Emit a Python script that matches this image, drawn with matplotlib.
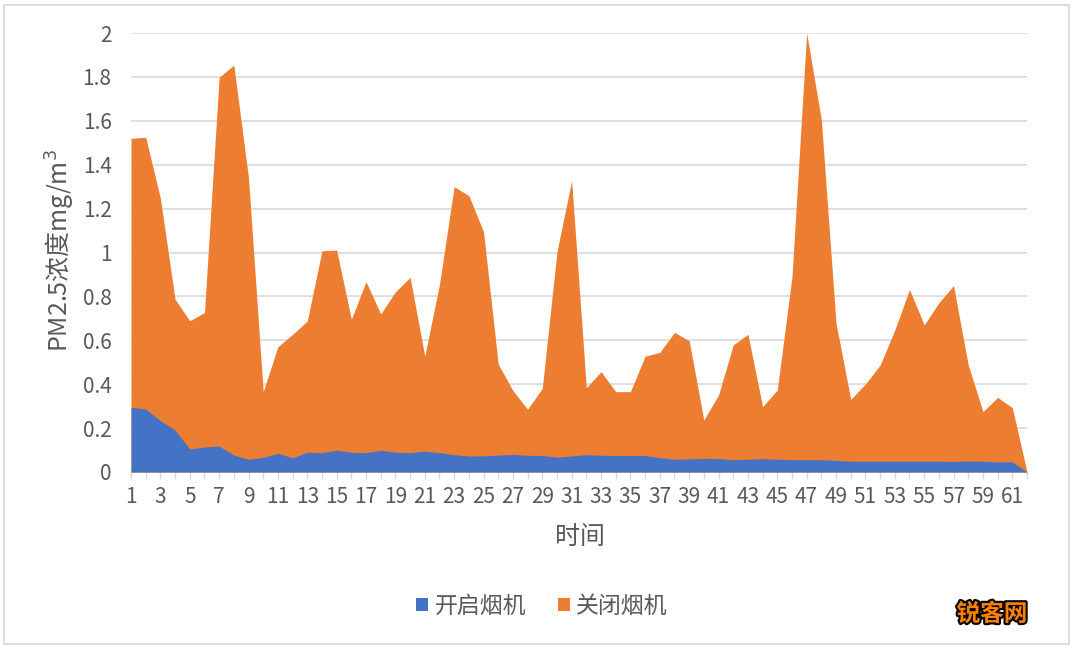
import matplotlib
matplotlib.use("Agg")
import matplotlib.pyplot as plt
import matplotlib.patheffects as pe
from matplotlib.patches import Rectangle

plt.rcParams['font.family'] = ['Noto Sans CJK SC', 'DejaVu Sans']

time_idx = list(range(1, 63))
off_values = [1.52, 1.525, 1.247, 0.787, 0.689, 0.726, 1.798, 1.854, 1.34, 0.366,
              0.571, 0.627, 0.688, 1.008, 1.011, 0.696, 0.867, 0.72, 0.821, 0.887,
              0.528, 0.855, 1.30, 1.259, 1.095, 0.492, 0.371, 0.286, 0.381, 1.004,
              1.327, 0.384, 0.457, 0.366, 0.366, 0.528, 0.545, 0.636, 0.598, 0.237,
              0.351, 0.579, 0.627, 0.298, 0.374, 0.89, 2.0, 1.604, 0.677, 0.331,
              0.401, 0.487, 0.647, 0.832, 0.67, 0.771, 0.849, 0.487, 0.275, 0.34,
              0.293, 0.0]
on_values = [0.295, 0.287, 0.234, 0.191, 0.105, 0.114, 0.118, 0.077, 0.058, 0.067,
             0.085, 0.065, 0.09, 0.088, 0.099, 0.09, 0.088, 0.099, 0.09, 0.088,
             0.095, 0.088, 0.079, 0.073, 0.073, 0.077, 0.08, 0.076, 0.075, 0.068,
             0.073, 0.079, 0.076, 0.075, 0.075, 0.075, 0.065, 0.058, 0.06, 0.062,
             0.061, 0.056, 0.058, 0.061, 0.058, 0.056, 0.056, 0.056, 0.053, 0.049,
             0.049, 0.049, 0.049, 0.049, 0.049, 0.049, 0.048, 0.05, 0.049, 0.046,
             0.046, 0.0]
series_names = ['开启烟机', '关闭烟机']
y_ticks = [0, 0.2, 0.4, 0.6, 0.8, 1, 1.2, 1.4, 1.6, 1.8, 2]
y_tick_labels = ['0', '0.2', '0.4', '0.6', '0.8', '1', '1.2', '1.4', '1.6', '1.8', '2']
x_label = '时间'
y_label = 'PM2.5浓度mg/m$^3$'

BLUE = '#4472C4'
ORANGE = '#ED7D31'
GRID = '#D9D9D9'
TXT = '#595959'

W, H = 1075, 648
fig = plt.figure(figsize=(W / 100, H / 100), dpi=100)
ax = fig.add_axes([131 / W, 1 - 472 / H, (1027 - 131) / W, (472 - 33) / H])

ax.fill_between(time_idx, 0, off_values, color=ORANGE, lw=0, zorder=2, label=series_names[1])
ax.fill_between(time_idx, 0, on_values, color=BLUE, lw=0, zorder=3, label=series_names[0])

ax.set_xlim(1, 62)
ax.set_ylim(0, 2)
ax.set_yticks(y_ticks)
ax.set_yticklabels(y_tick_labels)
ax.set_xticks(time_idx)
ax.set_xticklabels([str(t) if t % 2 == 1 else '' for t in time_idx])
ax.tick_params(axis='y', length=0, pad=14, labelsize=15, labelcolor=TXT)
ax.tick_params(axis='x', length=5, width=1, color=GRID, pad=5, labelsize=15, labelcolor=TXT)
ax.grid(axis='y', color=GRID, lw=1.2, zorder=0)
ax.set_axisbelow(True)
for s in ['top', 'right', 'left']:
    ax.spines[s].set_visible(False)
ax.spines['bottom'].set_color(GRID)
ax.spines['bottom'].set_linewidth(1.2)
ax.spines['bottom'].set_zorder(1)

fig.text(580 / W, 1 - 537 / H, x_label, ha='center', va='center', fontsize=18, color=TXT)
fig.text(60 / W, 1 - 250 / H, y_label, ha='center', va='center', rotation=90,
         fontsize=18, color=TXT)

handles, labels = ax.get_legend_handles_labels()
order = [1, 0]
leg = fig.legend([handles[i] for i in order], [labels[i] for i in order],
                 loc='center', bbox_to_anchor=(542 / W, 1 - 606 / H), ncol=2, frameon=False,
                 fontsize=16.5, handlelength=0.5, handleheight=0.5, handletextpad=0.3,
                 columnspacing=1.4, labelcolor=TXT)

fig.text(992 / W, 1 - 614 / H, '锐客网', ha='center', va='center', fontsize=17,
         color='#FF7F00', weight='bold',
         path_effects=[pe.withStroke(linewidth=3, foreground='black')])

fig.patches.append(Rectangle((4 / W, 4 / H), (1069 - 4) / W, (643 - 4) / H,
                             transform=fig.transFigure, fill=False, edgecolor=GRID, lw=1.3))

fig.savefig('out.png', dpi=100, facecolor='white')
